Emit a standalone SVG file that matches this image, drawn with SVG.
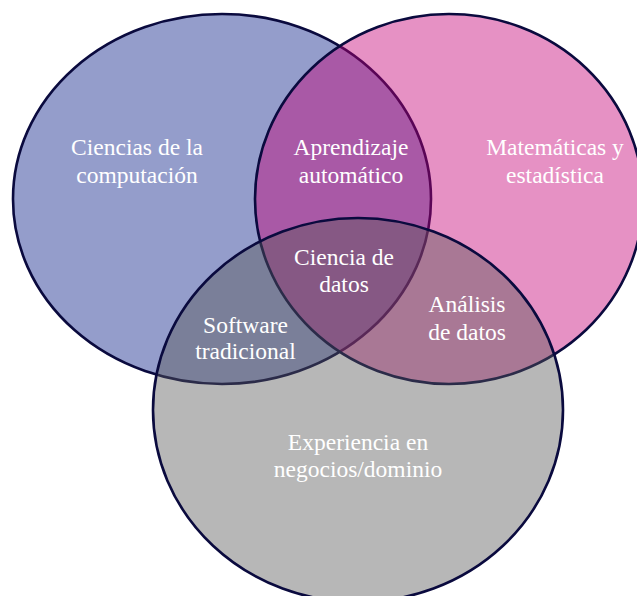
<svg xmlns="http://www.w3.org/2000/svg" width="637" height="596" viewBox="0 0 637 596">
<style>
.set{stroke:#0a0a3e;stroke-width:2.6;fill-opacity:0.43}
.lbl{font-family:"Liberation Serif","Times New Roman",serif;font-size:23.5px;fill:#ffffff;text-anchor:middle}
</style>
<rect width="637" height="596" fill="#ffffff"/>
<g id="cs">
<ellipse class="set" cx="222" cy="199" rx="209" ry="185" fill="#071c87"/>
</g>
<g id="math">
<ellipse class="set" cx="449" cy="199" rx="194" ry="185" fill="#c60076"/>
</g>
<g id="domain">
<ellipse class="set" cx="358" cy="410" rx="205" ry="192" fill="#585858"/>
</g>
<g id="labels">
<g id="l-cs"><text class="lbl" x="137" y="155">Ciencias de la</text><text class="lbl" x="137" y="183">computación</text></g>
<g id="l-ml"><text class="lbl" x="351" y="155">Aprendizaje</text><text class="lbl" x="351" y="183">automático</text></g>
<g id="l-math"><text class="lbl" x="555" y="155">Matemáticas y</text><text class="lbl" x="555" y="183">estadística</text></g>
<g id="l-ds"><text class="lbl" x="344" y="265">Ciencia de</text><text class="lbl" x="344" y="292">datos</text></g>
<g id="l-sw"><text class="lbl" x="245.5" y="333">Software</text><text class="lbl" x="245.5" y="359">tradicional</text></g>
<g id="l-da"><text class="lbl" x="467" y="312">Análisis</text><text class="lbl" x="467" y="340">de datos</text></g>
<g id="l-dom"><text class="lbl" x="358" y="450">Experiencia en</text><text class="lbl" x="358" y="477">negocios/dominio</text></g>
</g>
<g id="connectors"/>
</svg>
